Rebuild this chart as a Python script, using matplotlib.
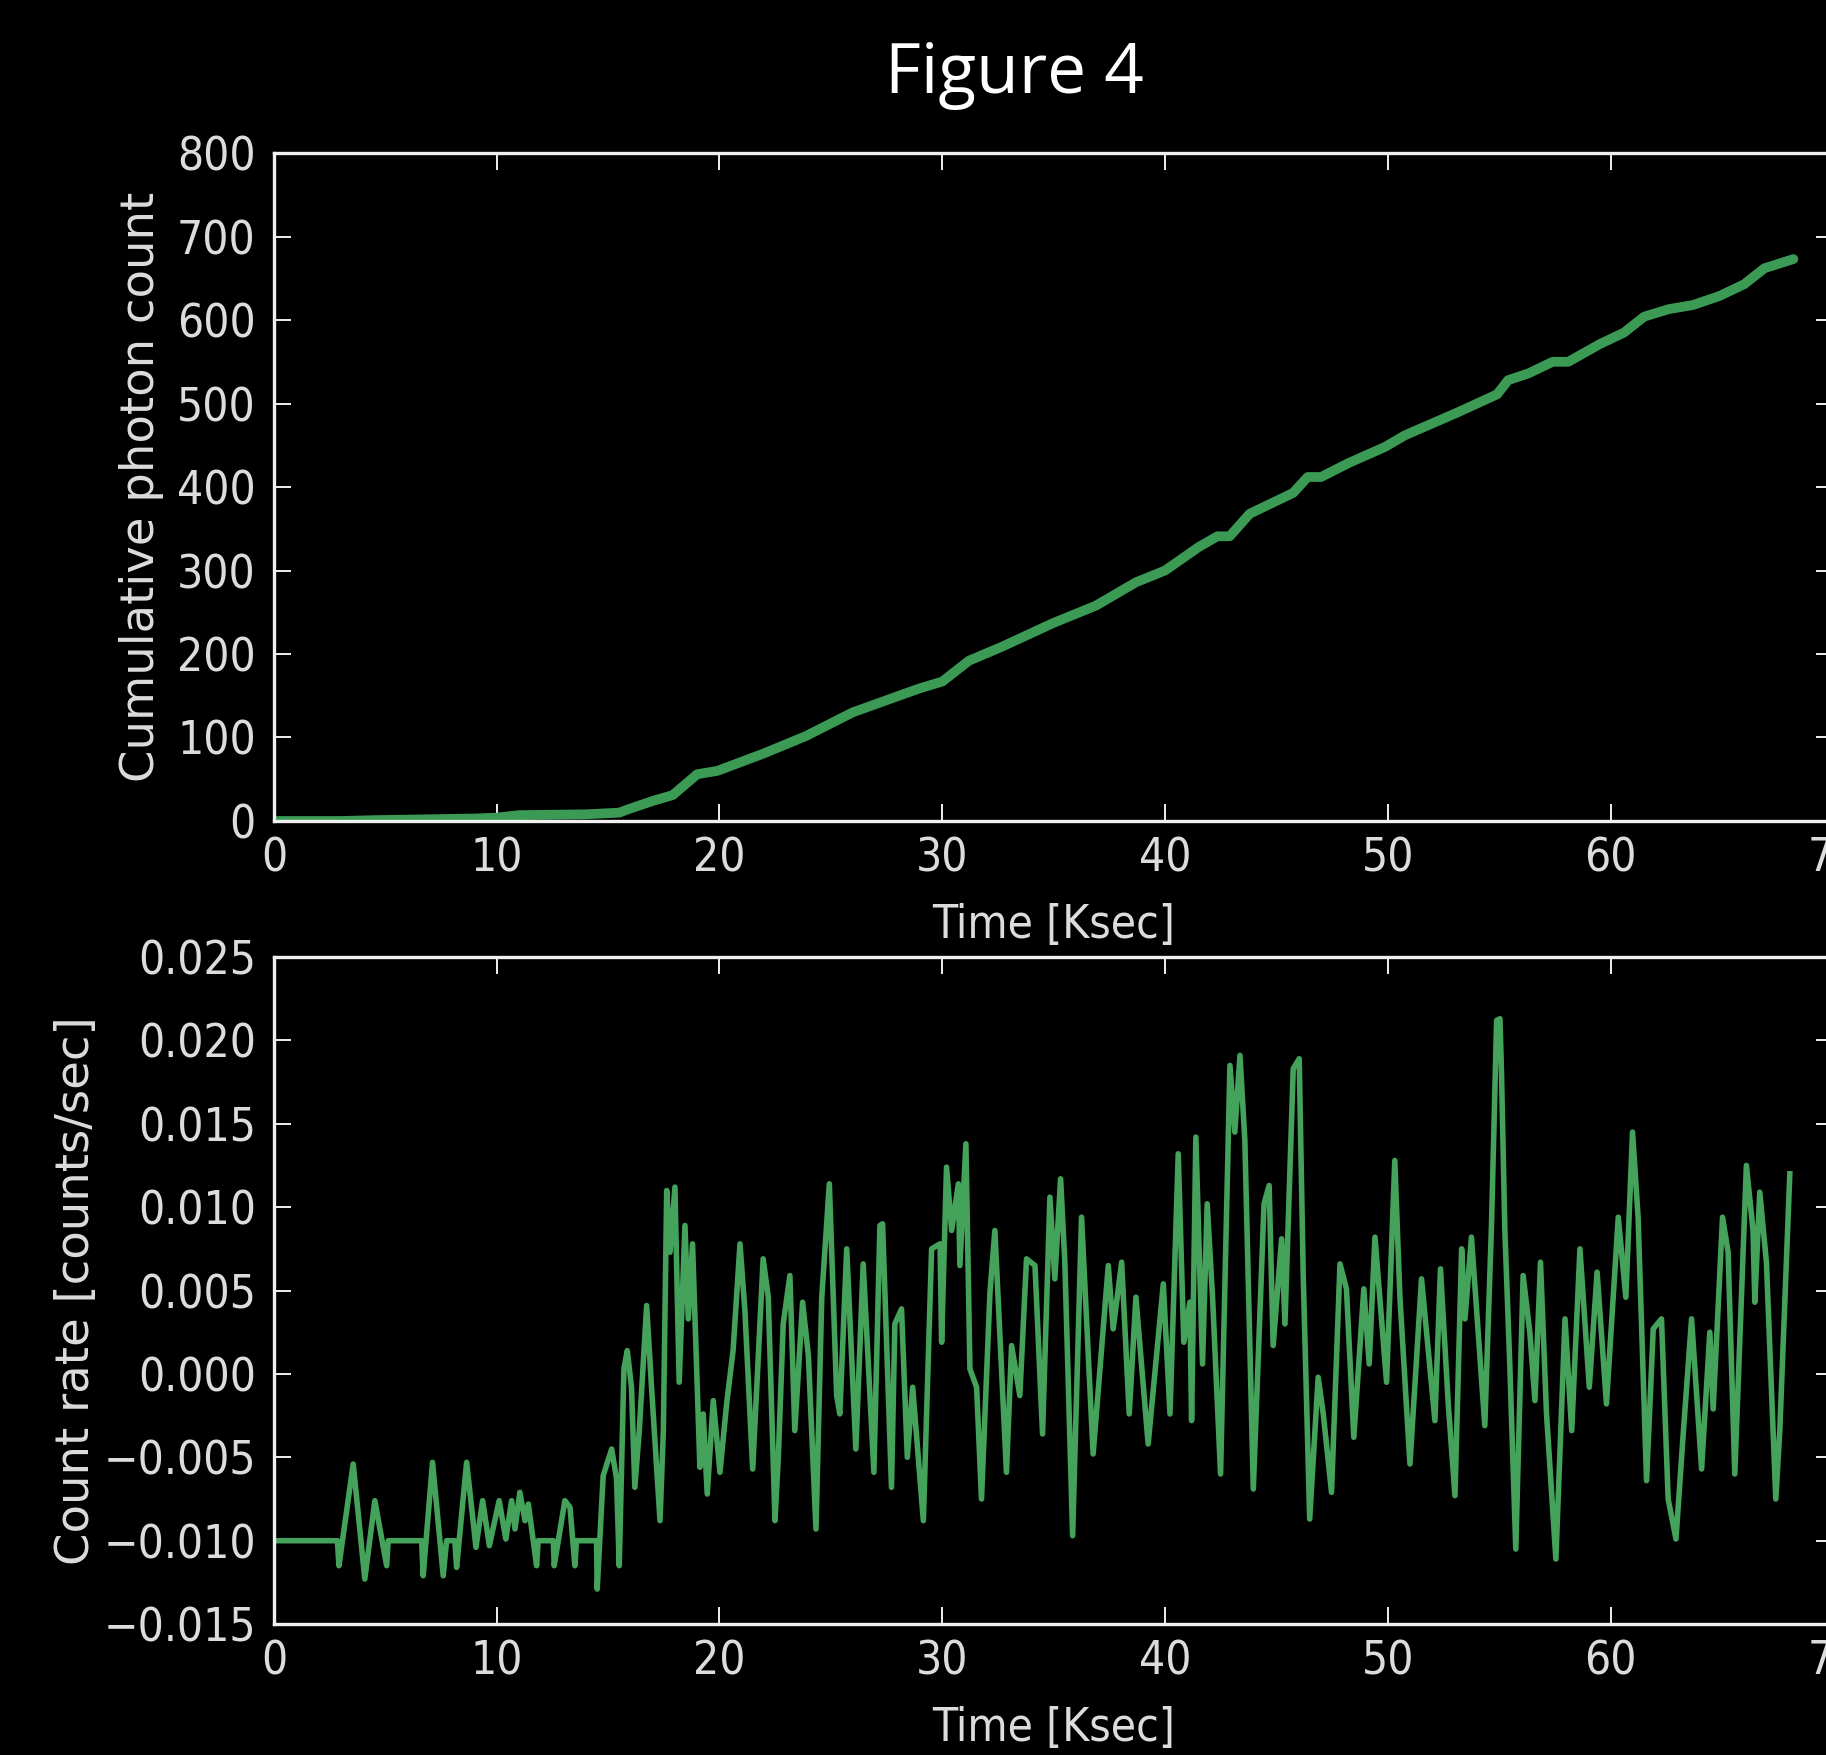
import matplotlib
matplotlib.use('Agg')
import matplotlib.pyplot as plt
from matplotlib import font_manager
from matplotlib.ticker import FormatStrFormatter

# cumulative photon count (top panel)
cum_time = [0, 3, 4.5, 9, 10, 11, 14, 15.5, 15.9, 17.0, 17.9, 19.0, 19.9, 22.0,
            23.9, 25.97, 27.95, 29.0, 30.0, 31.2, 32.7, 34.97, 36.9, 38.7, 40.0,
            41.5, 42.35, 42.9, 43.8, 45.75, 46.4, 47.0, 48.26, 49.87, 50.77, 53.1,
            54.9, 55.4, 56.3, 57.4, 58.1, 59.5, 60.6, 61.5, 62.6, 63.7, 64.9, 66.0,
            66.9, 68.2]
cum_count = [0, 0, 1, 3, 4, 7, 8, 10, 14, 24, 31, 56, 60, 81,
             102, 130, 149, 159, 167, 192, 209, 237, 258, 286, 300,
             328, 341, 341, 368, 393, 412, 412, 429, 448, 462, 489,
             511, 528, 536, 550, 550, 571, 585, 604, 613, 618, 629, 643,
             662, 673]

# count rate (bottom panel)
rate_time = [0.0, 2.85, 2.92, 3.56, 4.08, 4.53, 5.06, 5.13, 6.63, 6.70, 7.12, 7.60,
             7.75, 8.12, 8.20, 8.65, 9.07, 9.37, 9.67, 10.11, 10.41, 10.67, 10.82,
             11.04, 11.27, 11.42, 11.79, 11.86, 12.54, 12.58, 13.06, 13.29, 13.51,
             13.58, 14.48, 14.51, 14.78, 15.16, 15.38, 15.50, 15.71, 15.86, 16.05,
             16.20, 16.40, 16.73, 16.95, 17.33, 17.48, 17.63, 17.78, 18.00, 18.19,
             18.45, 18.60, 18.79, 19.04, 19.12, 19.27, 19.45, 19.72, 20.02, 20.32,
             20.61, 20.92, 21.14, 21.49, 21.96, 22.19, 22.49, 22.64, 22.86, 23.16,
             23.38, 23.73, 23.99, 24.33, 24.59, 24.93, 25.26, 25.40, 25.71, 26.12,
             26.45, 26.93, 27.20, 27.32, 27.72, 27.87, 28.17, 28.43, 28.67, 29.15,
             29.52, 29.90, 29.97, 30.19, 30.42, 30.72, 30.79, 31.06, 31.24, 31.54,
             31.76, 32.14, 32.36, 32.88, 33.11, 33.48, 33.78, 34.16, 34.50, 34.83,
             35.05, 35.31, 35.50, 35.85, 36.25, 36.77, 37.45, 37.67, 38.05, 38.39,
             38.69, 39.24, 39.92, 40.22, 40.59, 40.84, 41.11, 41.19, 41.38, 41.68,
             41.89, 42.13, 42.49, 42.91, 43.13, 43.36, 43.58, 43.96, 44.44, 44.67,
             44.85, 45.23, 45.38, 45.75, 46.02, 46.20, 46.49, 46.87, 47.10, 47.47,
             47.85, 48.14, 48.47, 48.92, 49.16, 49.42, 49.94, 50.31, 50.54, 50.99,
             51.51, 52.11, 52.36, 52.71, 53.01, 53.31, 53.46, 53.75, 54.35, 54.65,
             54.88, 55.03, 55.10, 55.25, 55.47, 55.74, 56.07, 56.37, 56.60, 56.85,
             57.12, 57.54, 57.95, 58.25, 58.62, 59.04, 59.39, 59.81, 60.34, 60.68,
             60.98, 61.23, 61.61, 61.91, 62.28, 62.58, 62.93, 63.25, 63.63, 64.08,
             64.45, 64.60, 65.02, 65.27, 65.57, 66.09, 66.39, 66.47, 66.69, 66.99,
             67.41, 67.59, 68.04]
rate_value = [-0.0100, -0.0100, -0.0115, -0.0054, -0.0123, -0.0076, -0.0115, -0.0100,
              -0.0100, -0.0121, -0.0053, -0.0121, -0.0100, -0.0100, -0.0116, -0.0053,
              -0.0104, -0.0076, -0.0103, -0.0076, -0.0099, -0.0076, -0.0093, -0.0071,
              -0.0088, -0.0078, -0.0115, -0.0100, -0.0100, -0.0115, -0.0076, -0.0080,
              -0.0115, -0.0100, -0.0100, -0.0129, -0.0061, -0.0045, -0.0063, -0.0115,
              0.0003, 0.0014, -0.0008, -0.0068, -0.0034, 0.0041, -0.0008, -0.0088,
              -0.0034, 0.0110, 0.0073, 0.0112, -0.0005, 0.0089, 0.0033, 0.0078,
              -0.0024, -0.0056, -0.0024, -0.0072, -0.0016, -0.0059, -0.0018, 0.0014,
              0.0078, 0.0038, -0.0057, 0.0069, 0.0046, -0.0088, -0.0050, 0.0030,
              0.0059, -0.0034, 0.0043, 0.0011, -0.0093, 0.0046, 0.0114, -0.0013,
              -0.0024, 0.0075, -0.0045, 0.0066, -0.0059, 0.0089, 0.0090, -0.0068,
              0.0030, 0.0039, -0.0050, -0.0008, -0.0088, 0.0075, 0.0078, 0.0019,
              0.0124, 0.0086, 0.0114, 0.0065, 0.0138, 0.0003, -0.0008, -0.0075,
              0.0049, 0.0086, -0.0059, 0.0017, -0.0013, 0.0069, 0.0065, -0.0036,
              0.0106, 0.0057, 0.0117, 0.0067, -0.0097, 0.0094, -0.0048, 0.0065,
              0.0027, 0.0067, -0.0024, 0.0046, -0.0042, 0.0054, -0.0024, 0.0132,
              0.0019, 0.0043, -0.0028, 0.0142, 0.0006, 0.0102, 0.0046, -0.0060,
              0.0185, 0.0145, 0.0191, 0.0140, -0.0069, 0.0102, 0.0113, 0.0017,
              0.0081, 0.0030, 0.0183, 0.0189, 0.0059, -0.0087, -0.0002, -0.0024,
              -0.0071, 0.0066, 0.0051, -0.0038, 0.0051, 0.0006, 0.0082, -0.0005,
              0.0128, 0.0046, -0.0054, 0.0057, -0.0028, 0.0063, -0.0018, -0.0073,
              0.0075, 0.0033, 0.0082, -0.0031, 0.0089, 0.0212, 0.0213, 0.0180,
              0.0086, 0.0006, -0.0105, 0.0059, 0.0025, -0.0016, 0.0067, -0.0024,
              -0.0111, 0.0033, -0.0034, 0.0075, -0.0008, 0.0061, -0.0018, 0.0094,
              0.0046, 0.0145, 0.0094, -0.0064, 0.0027, 0.0033, -0.0075, -0.0099,
              -0.0037, 0.0033, -0.0057, 0.0025, -0.0021, 0.0094, 0.0073, -0.0060,
              0.0125, 0.0086, 0.0043, 0.0109, 0.0067, -0.0075, -0.0034, 0.0120]

x_ticks = [0, 10, 20, 30, 40, 50, 60, 70]
cum_ticks = [0, 100, 200, 300, 400, 500, 600, 700, 800]
rate_ticks = [-0.015, -0.010, -0.005, 0.0, 0.005, 0.010, 0.015, 0.020, 0.025]

fg = '#dcdcdc'

# the source image is squeezed sideways, so horizontal text wants a narrow face
cond = [f.fname for f in font_manager.fontManager.ttflist
        if f.name == 'DejaVu Sans' and f.stretch == 'condensed'
        and f.style == 'normal' and f.weight in (400, 'normal', 'book')]
if cond:
    hfont = font_manager.FontProperties(fname=cond[0], size=33)
else:
    hfont = font_manager.FontProperties(family='DejaVu Sans', size=29)

fig = plt.figure(figsize=(18.26, 17.55), dpi=100, facecolor='black')
ax1 = fig.add_axes([0.1500, 0.5322, 0.8541, 0.3806])
ax2 = fig.add_axes([0.1500, 0.0746, 0.8541, 0.3801])

ax1.plot(cum_time, cum_count, color='#3b9b55', lw=7, solid_capstyle='round')
ax1.set_ylim(0, 800)
ax1.set_yticks(cum_ticks)
ax1.set_yticklabels([str(v) for v in cum_ticks])

ax2.plot(rate_time, rate_value, color='#44a25b', lw=4)
ax2.set_ylim(-0.015, 0.025)
ax2.set_yticks(rate_ticks)
ax2.set_yticklabels([('%.3f' % v).replace('-', '\u2212') for v in rate_ticks])

for ax, ylab, yx in ((ax1, 'Cumulative photon count', -0.0846),
                     (ax2, 'Count rate [counts/sec]', -0.1263)):
    ax.set_facecolor('black')
    for s in ax.spines.values():
        s.set_color('#f0f0f0')
        s.set_linewidth(2.4)
    ax.tick_params(direction='in', length=12, width=1.4, colors='#f0f0f0',
                   top=True, right=True, labelcolor=fg)
    ax.tick_params(axis='x', pad=11)
    ax.tick_params(axis='y', pad=13)
    ax.set_xlim(0, 70)
    ax.set_xticks(x_ticks)
    ax.set_xticklabels([str(v) for v in x_ticks])
    for lab in ax.get_xticklabels() + ax.get_yticklabels():
        lab.set_fontproperties(hfont)
    ax.set_xlabel('Time [Ksec]', color=fg, fontproperties=hfont, va='center')
    ax.xaxis.set_label_coords(0.5, -0.157)
    ax.set_ylabel(ylab, color=fg, family='DejaVu Sans', fontsize=33.5, va='center')
    ax.yaxis.set_label_coords(yx, 0.5)

fig.text(0.5553, 0.9472, 'Figure 4', color='white', family='Open Sans',
         fontsize=50, ha='center', va='baseline')

fig.savefig('out.png', dpi=100, facecolor='black')
